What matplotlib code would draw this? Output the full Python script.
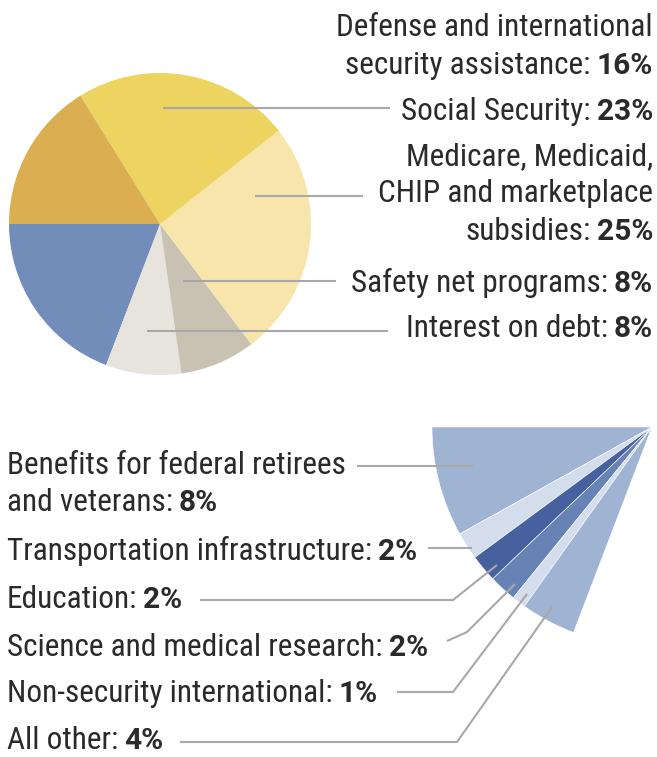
import os
import numpy as np
import matplotlib
matplotlib.use("Agg")
import matplotlib.pyplot as plt
from matplotlib import font_manager as fm

# ---------------- data ----------------
top_categories = ["Defense and international\nsecurity assistance", "Social Security",
                  "Medicare, Medicaid,\nCHIP and marketplace\nsubsidies",
                  "Safety net programs", "Interest on debt"]
top_values = [16, 23, 25, 8, 8]
top_colors = ["#DBAE52", "#EDD35F", "#F7E5AC", "#C9C2B2", "#E7E3DD"]
other_color = "#738DBB"

bottom_categories = ["Benefits for federal retirees\nand veterans", "Transportation infrastructure",
                     "Education", "Science and medical research",
                     "Non-security international", "All other"]
bottom_values = [8, 2, 2, 2, 1, 4]
bottom_colors = ["#9FB3D2", "#D3DDEC", "#47609E", "#6783B5", "#D3DDEC", "#9FB3D2"]

# ---------------- fonts ----------------
sysfonts = fm.findSystemFonts()
base = {os.path.basename(f): f for f in sysfonts}

def pick(names):
    for n in names:
        if n in base:
            return fm.FontProperties(fname=base[n])
    return None

FP_REG = pick(["RobotoCondensed-Regular.ttf", "LiberationSansNarrow-Regular.ttf",
               "DejaVuSansCondensed.ttf"])
if FP_REG is None:
    FP_REG = fm.FontProperties(family="Roboto")
FP_BOLD = fm.FontProperties(family=["Roboto", "DejaVu Sans"], weight="bold")

FS = 22.5
FSB = 21.5
TXT = "#2A2A2A"
LINE = "#A8A8A8"

W, H = 657, 757
fig = plt.figure(figsize=(W / 100, H / 100), dpi=100)
ax = fig.add_axes([0, 0, 1, 1])

def P(x, y):
    return x, H - y

# top pie: counter-clockwise from 9 o'clock: other group, then top categories reversed
pie_vals = [sum(bottom_values)] + top_values[::-1]
pie_cols = [other_color] + top_colors[::-1]
ax.pie(pie_vals, colors=pie_cols, startangle=180, counterclock=True,
       radius=151, center=P(160, 224), wedgeprops=dict(linewidth=0))

total = sum(top_values) + sum(bottom_values)
ax.pie(np.array(bottom_values) / total, colors=bottom_colors, startangle=180,
       counterclock=True, normalize=False, radius=220, center=P(652, 427),
       wedgeprops=dict(linewidth=0.4, edgecolor="white"))

ax.set_xlim(0, W)
ax.set_ylim(0, H)
ax.set_aspect("equal", adjustable="box")
ax.axis("off")

fig.canvas.draw()
renderer = fig.canvas.get_renderer()
GAP = 6

def label_right(xr, yb, normal, bold):
    tb = ax.text(*P(xr, yb), bold, fontproperties=FP_BOLD, fontsize=FSB, color=TXT,
                 ha="right", va="baseline")
    wb = tb.get_window_extent(renderer).width
    ax.text(*P(xr - wb - GAP, yb), normal, fontproperties=FP_REG, fontsize=FS, color=TXT,
            ha="right", va="baseline")

def label_left(xl, yb, normal, bold):
    tn = ax.text(*P(xl, yb), normal, fontproperties=FP_REG, fontsize=FS, color=TXT,
                 ha="left", va="baseline")
    wn = tn.get_window_extent(renderer).width
    ax.text(*P(xl + wn + GAP, yb), bold, fontproperties=FP_BOLD, fontsize=FSB, color=TXT,
            ha="left", va="baseline")

def plain(x, yb, s, ha):
    ax.text(*P(x, yb), s, fontproperties=FP_REG, fontsize=FS, color=TXT, ha=ha, va="baseline")

# ---- top labels (right aligned) ----
XR = 653
top_baselines = [[36, 74], [120], [165, 202, 240], [292], [337]]
for cat, val, bls in zip(top_categories, top_values, top_baselines):
    lines = cat.split("\n")
    for ln, yb in zip(lines[:-1], bls[:-1]):
        plain(XR, yb, ln, "right")
    label_right(XR, bls[-1], lines[-1] + ":", f"{val}%")

# ---- bottom labels (left aligned) ----
XL = 7
bottom_baselines = [[474, 511], [560], [608], [656], [702], [749]]
for cat, val, bls in zip(bottom_categories, bottom_values, bottom_baselines):
    lines = cat.split("\n")
    for ln, yb in zip(lines[:-1], bls[:-1]):
        plain(XL, yb, ln, "left")
    label_left(XL, bls[-1], lines[-1] + ":", f"{val}%")

# ---- leader lines (pixel layout) ----
leaders = [
    [(163, 108), (390, 108)],
    [(255, 196), (363, 196)],
    [(183, 281), (336, 281)],
    [(147, 331), (388, 331)],
    [(357, 466), (473, 466)],
    [(428, 548), (472, 548)],
    [(200, 600), (453, 600), (497, 565)],
    [(447, 641), (467, 632), (515, 584)],
    [(397, 692), (453, 692), (527, 594)],
    [(180, 742), (457, 742), (552, 607)],
]
for pts in leaders:
    xs = [p[0] for p in pts]
    ys = [H - p[1] for p in pts]
    ax.plot(xs, ys, color=LINE, lw=1.5, solid_capstyle="butt", solid_joinstyle="miter")

fig.savefig("out.png", dpi=100)
